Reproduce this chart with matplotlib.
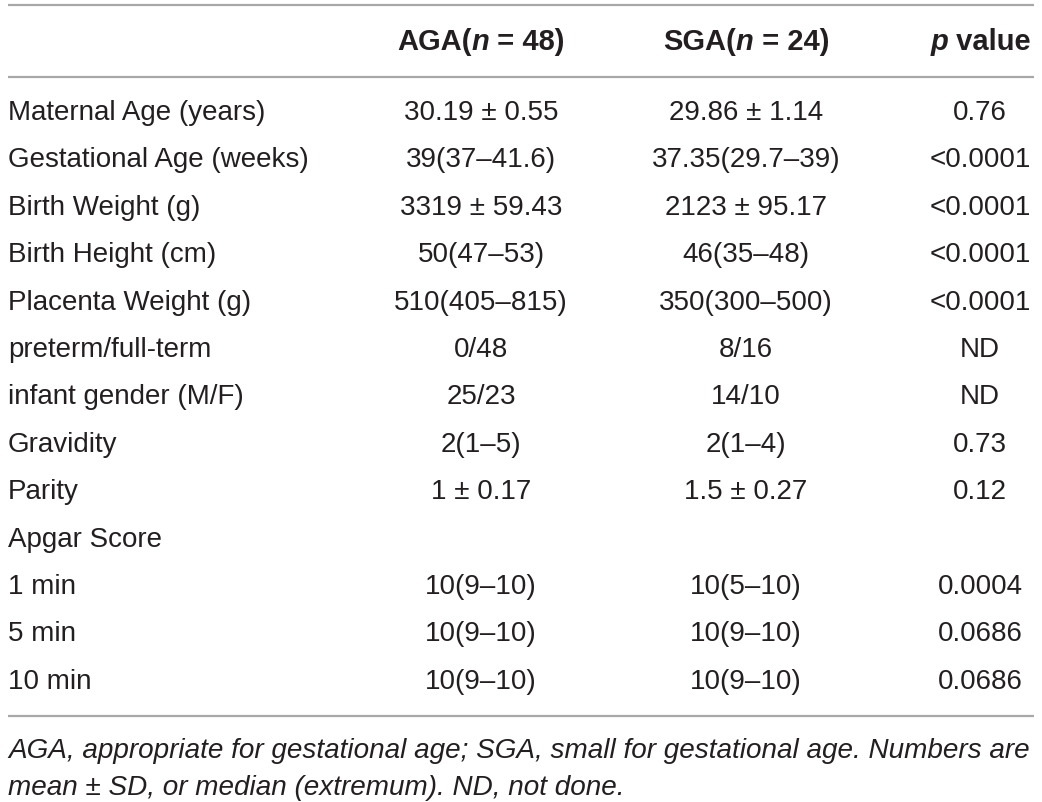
import matplotlib
matplotlib.use('Agg')
import matplotlib.pyplot as plt

labels = ['Maternal Age (years)', 'Gestational Age (weeks)', 'Birth Weight (g)',
          'Birth Height (cm)', 'Placenta Weight (g)', 'preterm/full-term',
          'infant gender (M/F)', 'Gravidity', 'Parity', 'Apgar Score',
          '1 min', '5 min', '10 min']
aga = ['30.19 \u00b1 0.55', '39(37\u201341.6)', '3319 \u00b1 59.43', '50(47\u201353)',
       '510(405\u2013815)', '0/48', '25/23', '2(1\u20135)', '1 \u00b1 0.17', '',
       '10(9\u201310)', '10(9\u201310)', '10(9\u201310)']
sga = ['29.86 \u00b1 1.14', '37.35(29.7\u201339)', '2123 \u00b1 95.17', '46(35\u201348)',
       '350(300\u2013500)', '8/16', '14/10', '2(1\u20134)', '1.5 \u00b1 0.27', '',
       '10(5\u201310)', '10(9\u201310)', '10(9\u201310)']
pvals = ['0.76', '<0.0001', '<0.0001', '<0.0001', '<0.0001', 'ND', 'ND',
         '0.73', '0.12', '', '0.0004', '0.0686', '0.0686']
footnote = ['AGA, appropriate for gestational age; SGA, small for gestational age. Numbers are',
            'mean \u00b1 SD, or median (extremum). ND, not done.']

FONT = 'Liberation Sans'
FS = 20
HFS = 21
TXT = '#231f20'
LINE = '#a8a8a8'

fig = plt.figure(figsize=(10.42, 8.02), dpi=100)
ax = fig.add_axes([0, 0, 1, 1])
ax.set_xlim(0, 1042)
ax.set_ylim(802, 0)
ax.axis('off')
renderer = fig.canvas.get_renderer()


def rich(x, y, parts, ha='center'):
    # parts: list of (text, style) drawn side by side
    objs = []
    for s, st in parts:
        t = ax.text(0, y, s, fontsize=HFS, family=FONT, fontweight='bold',
                    fontstyle=st, color=TXT, va='center', ha='left')
        objs.append(t)
    widths = [o.get_window_extent(renderer).width for o in objs]
    total = sum(widths)
    if ha == 'center':
        x0 = x - total / 2
    elif ha == 'right':
        x0 = x - total
    else:
        x0 = x
    for o, w in zip(objs, widths):
        o.set_x(x0)
        x0 += w


# rules
for yl in (5, 77, 716):
    ax.plot([8, 1034], [yl, yl], color=LINE, lw=1.6, solid_capstyle='butt')

# header
rich(481, 42, [('AGA(', 'normal'), ('n', 'italic'), (' = 48)', 'normal')])
rich(746, 42, [('SGA(', 'normal'), ('n', 'italic'), (' = 24)', 'normal')])
rich(1031, 42, [('p', 'italic'), (' value', 'normal')], ha='right')

y0 = 113
dy = 47.4
for i in range(len(labels)):
    y = y0 + i * dy
    ax.text(8, y, labels[i], fontsize=FS, family=FONT, color=TXT, va='center', ha='left')
    ax.text(481, y, aga[i], fontsize=FS, family=FONT, color=TXT, va='center', ha='center')
    ax.text(746, y, sga[i], fontsize=FS, family=FONT, color=TXT, va='center', ha='center')
    ax.text(980, y, pvals[i], fontsize=FS, family=FONT, color=TXT, va='center', ha='center')

for j, line in enumerate(footnote):
    ax.text(8, 751 + j * 37, line, fontsize=20.1, family=FONT, fontstyle='italic',
            color=TXT, va='center', ha='left')

fig.savefig('out.png', dpi=100, facecolor='white')
